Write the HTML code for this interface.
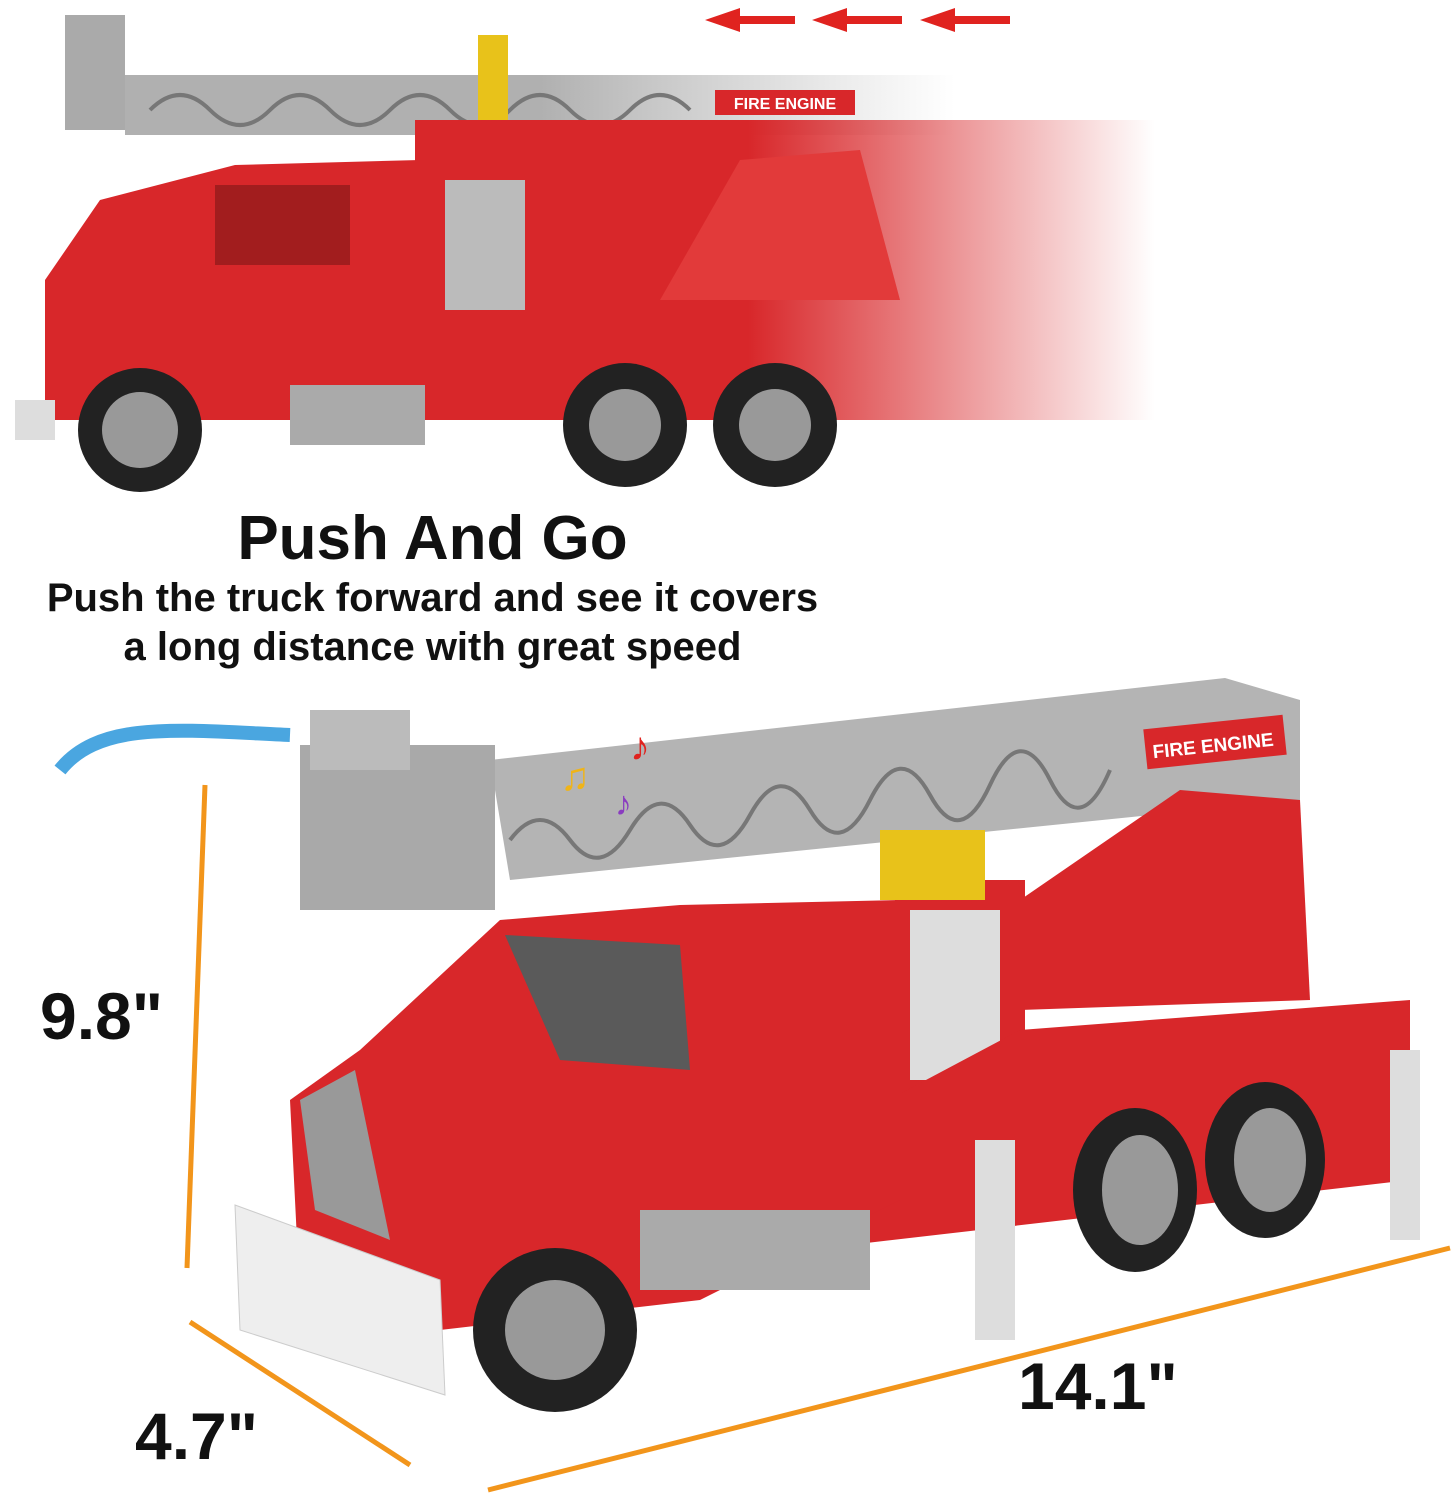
<!DOCTYPE html>
<html><head><meta charset="utf-8"><style>
html,body{margin:0;padding:0;background:#fff;}
body{width:1455px;height:1500px;position:relative;overflow:hidden;font-family:"Liberation Sans",sans-serif;}
.t{position:absolute;font-weight:bold;color:#111;white-space:nowrap;}
</style></head><body>
<svg width="1455" height="1500" style="position:absolute;left:0;top:0">
<defs>
<linearGradient id="fade" x1="0" x2="1"><stop offset="0.45" stop-color="#d8272a"/><stop offset="1" stop-color="#d8272a" stop-opacity="0"/></linearGradient>
<linearGradient id="gfade" x1="0" x2="1"><stop offset="0.5" stop-color="#b0b0b0"/><stop offset="1" stop-color="#bbb" stop-opacity="0"/></linearGradient>
</defs>
<!-- top truck -->
<rect x="65" y="15" width="60" height="115" fill="#aaa"/>
<rect x="125" y="75" width="830" height="60" fill="url(#gfade)"/>
<path d="M150,110 Q180,80 210,110 T270,110 T330,110 T390,110 T450,110 T510,110 T570,110 T630,110 T690,110" stroke="#777" stroke-width="4" fill="none"/>
<rect x="715" y="90" width="140" height="25" fill="#d8272a"/>
<text x="785" y="109" font-size="16" font-weight="bold" fill="#fff" text-anchor="middle" font-family="Liberation Sans">FIRE ENGINE</text>
<rect x="478" y="35" width="30" height="120" fill="#e8c21a"/>
<rect x="458" y="140" width="70" height="30" fill="#e8c21a"/>
<polygon points="45,280 100,200 235,165 420,160 420,420 45,420" fill="#d8272a"/>
<rect x="415" y="120" width="740" height="300" fill="url(#fade)"/>
<rect x="445" y="180" width="80" height="130" fill="#bbb"/>
<polygon points="660,300 740,160 860,150 900,300" fill="#e23a3a"/>
<rect x="215" y="185" width="135" height="80" fill="#8c1a1a" opacity="0.7"/>
<rect x="290" y="385" width="135" height="60" fill="#aaa"/>
<rect x="15" y="400" width="40" height="40" fill="#ddd"/>
<circle cx="140" cy="430" r="62" fill="#222"/><circle cx="140" cy="430" r="38" fill="#999"/>
<circle cx="625" cy="425" r="62" fill="#222"/><circle cx="625" cy="425" r="36" fill="#999"/>
<circle cx="775" cy="425" r="62" fill="#222"/><circle cx="775" cy="425" r="36" fill="#999"/>
<g fill="#e0231f"><polygon points="705,20 740,8 740,16 795,16 795,24 740,24 740,32"/><polygon points="812,20 847,8 847,16 902,16 902,24 847,24 847,32"/><polygon points="920,20 955,8 955,16 1010,16 1010,24 955,24 955,32"/></g>
<!-- bottom truck -->
<polygon points="490,760 1225,678 1300,700 1300,800 510,880" fill="#b4b4b4"/>
<path d="M510,840 Q540,800 570,840 T630,830 T690,825 T750,815 T810,810 T870,800 T930,795 T990,785 T1050,780 T1110,770" stroke="#777" stroke-width="4" fill="none"/>
<rect x="300" y="745" width="195" height="165" fill="#a9a9a9"/>
<rect x="310" y="710" width="100" height="60" fill="#bbb"/>
<rect x="1145" y="722" width="140" height="40" fill="#d8272a" transform="rotate(-6 1215 742)"/>
<text x="1213" y="752" font-size="19" font-weight="bold" fill="#fff" text-anchor="middle" font-family="Liberation Sans" transform="rotate(-6 1213 745)">FIRE ENGINE</text>
<polygon points="1020,900 1180,790 1300,800 1310,1000 1020,1010" fill="#d8272a"/>
<rect x="895" y="880" width="130" height="260" fill="#d8272a"/>
<rect x="910" y="910" width="90" height="170" fill="#ddd"/>
<rect x="880" y="830" width="105" height="70" fill="#e8c21a"/>
<polygon points="700,1200 1020,1030 1410,1000 1410,1180 720,1260" fill="#d8272a"/>
<polygon points="290,1100 360,1050 500,920 680,905 900,900 900,1200 700,1300 440,1330 300,1300" fill="#d8272a"/>
<polygon points="300,1100 355,1070 390,1240 315,1210" fill="#999"/>
<polygon points="505,935 680,945 690,1070 560,1060" fill="#5a5a5a"/>
<polygon points="235,1205 440,1280 445,1395 240,1330" fill="#eee" stroke="#ccc"/>
<rect x="640" y="1210" width="230" height="80" fill="#aaa"/>
<circle cx="555" cy="1330" r="82" fill="#222"/><circle cx="555" cy="1330" r="50" fill="#999"/>
<ellipse cx="1135" cy="1190" rx="62" ry="82" fill="#222"/><ellipse cx="1140" cy="1190" rx="38" ry="55" fill="#999"/>
<ellipse cx="1265" cy="1160" rx="60" ry="78" fill="#222"/><ellipse cx="1270" cy="1160" rx="36" ry="52" fill="#999"/>
<rect x="975" y="1140" width="40" height="200" fill="#ddd"/>
<rect x="1390" y="1050" width="30" height="190" fill="#ddd"/>
<path d="M60,770 C100,720 180,730 290,735" stroke="#4aa6e0" stroke-width="14" fill="none"/>
<text x="560" y="790" font-size="40" fill="#f0b418">♫</text>
<text x="630" y="760" font-size="40" fill="#e0231f">♪</text>
<text x="615" y="815" font-size="34" fill="#8a3cc0">♪</text>
<g stroke="#f2951b" stroke-width="5" fill="none">
<line x1="205" y1="785" x2="187" y2="1268"/>
<line x1="190" y1="1322" x2="410" y2="1465"/>
<line x1="488" y1="1490" x2="1450" y2="1248"/>
</g>
</svg>
<div class="t" style="left:0;width:865px;text-align:center;top:503px;font-size:62px;">Push And Go</div>
<div class="t" style="left:0;width:865px;text-align:center;top:574px;font-size:40px;line-height:49px;">Push the truck forward and see it covers<br>a long distance with great speed</div>
<div class="t" style="left:40px;top:978px;font-size:66px;">9.8"</div>
<div class="t" style="left:135px;top:1398px;font-size:66px;">4.7"</div>
<div class="t" style="left:1018px;top:1348px;font-size:66px;">14.1"</div>
</body></html>
